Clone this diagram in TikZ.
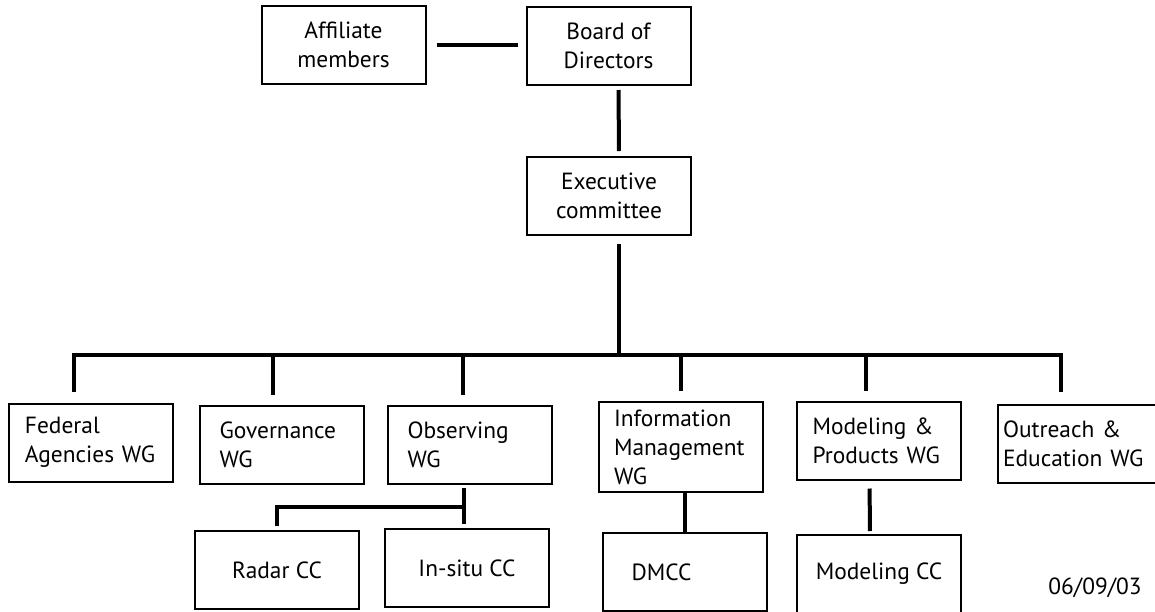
\documentclass[tikz,border=0pt]{standalone}
\usepackage{fontspec}
\setmainfont{PT Sans}

\begin{document}
\begin{tikzpicture}[x=0.5pt,y=-0.5pt,
    box/.style={rectangle,draw=black,line width=1pt,minimum width=82pt,minimum height=39pt,inner sep=0pt,font=\fontsize{11.7}{14.5}\selectfont},
    wg/.style={box,text width=66pt,align=left},
    cc/.style={box,align=center},
    link/.style={line width=2pt}]
        \useasboundingbox (0,0) rectangle (1155,611);
        \node at (343.5,44.5)[box,align=center] (affiliate) {Affiliate\\members};
        \node at (608.5,46)[box,align=center] (board) {Board of\\Directors};
        \node at (609,196)[box,align=center] (exec) {Executive\\committee};
        \node at (91,442.5)[wg] (federal) {Federal\\Agencies~WG};
        \node at (281.5,444.5)[wg,text width=62pt] (governance) {Governance\\WG};
        \node at (469.5,445)[wg,text width=62pt] (observing) {Observing\\WG};
        \node at (681,447)[wg,text width=67pt,minimum height=45pt] (infomgmt) {Information\\Management\\WG};
        \node at (878.5,440.5)[wg] (modeling) {Modeling \&\\Products~WG};
        \node at (1080,443.5)[wg,text width=77pt] (outreach) {Outreach \&\\Education~WG};
        \node at (277,570)[cc] (radar) {Radar CC};
        \node at (467,568)[cc] (insitu) {In-situ CC};
        \node at (684.5,572)[wg,text width=53pt] (dmcc) {DMCC};
        \node at (879,574)[cc] (modelingcc) {Modeling CC};
        \node at (1095,588)[font=\fontsize{11.7}{14.5}\selectfont] (date) {06/09/03};
        \coordinate (tapfed) at (74,355);
        \coordinate (tapgov) at (273,355);
        \coordinate (tapobs) at (463,355);
        \coordinate (tapinfo) at (681,355);
        \coordinate (tapmod) at (866,355);
        \coordinate (tapout) at (1061,355);
        \coordinate (obsjoin) at (464,507);
        \draw [link,shorten <=5pt,shorten >=4pt] (affiliate.east) to (affiliate.east -| board.west);
        \draw [link,shorten <=2pt,shorten >=2.5pt] ([xshift=5pt]board.south) to ([xshift=5pt]exec.north);
        \draw [link,shorten <=4pt] ([xshift=5pt]exec.south) to ([xshift=5pt]exec.south |- tapfed);
        \draw [link,shorten <=5.5pt,shorten >=6pt] (tapfed |- federal.north) -- (tapfed) -- (tapout) -- (tapout |- outreach.north);
        \foreach \tap/\wg in {tapgov/governance,tapobs/observing,tapinfo/infomgmt,tapmod/modeling}
            \draw [link,shorten >=5pt] (\tap) to (\tap |- \wg.north);
        \draw [link,shorten <=1.5pt,shorten >=2pt] (obsjoin |- observing.south) to (obsjoin |- insitu.north);
        \draw [link,shorten >=2pt] (obsjoin) -| (radar.north);
        \draw [link] (dmcc.north) to (dmcc.north |- infomgmt.south);
        \draw [link,shorten <=4pt,shorten >=1.5pt] ([xshift=-4.5pt]modeling.south) to ([xshift=-4.5pt]modelingcc.north);
    \end{tikzpicture}
\end{document}
